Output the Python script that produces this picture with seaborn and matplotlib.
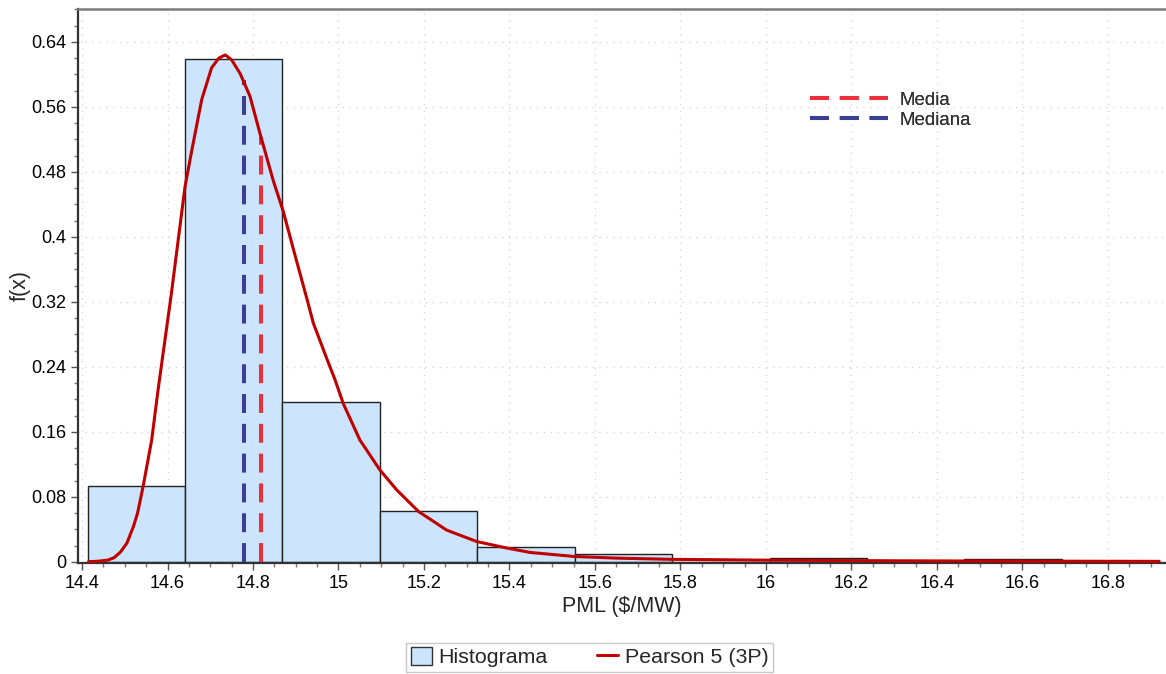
import numpy as np
import pandas as pd
import matplotlib
matplotlib.use('Agg')
import matplotlib.pyplot as plt
from matplotlib.ticker import MultipleLocator, FuncFormatter
from matplotlib.lines import Line2D
from matplotlib.patches import Patch
import seaborn as sns

# datos
bordes = [14.413, 14.641, 14.869, 15.097, 15.325, 15.553, 15.781, 16.009, 16.236, 16.464, 16.692, 16.92]
frecuencias = [0.0927, 0.619, 0.197, 0.062, 0.018, 0.0095, 0.0, 0.0045, 0.0, 0.0033, 0.0]

curva_x = [14.415, 14.44, 14.46, 14.475, 14.49, 14.505, 14.52, 14.53, 14.543, 14.563, 14.578,
           14.594, 14.609, 14.625, 14.641, 14.657, 14.68, 14.703, 14.72, 14.735, 14.75, 14.77,
           14.793, 14.816, 14.847, 14.871, 14.898, 14.926, 14.941, 14.972, 14.992, 15.011, 15.05,
           15.097, 15.136, 15.187, 15.253, 15.323, 15.393, 15.448, 15.552, 15.65, 15.78, 16.0,
           16.3, 16.6, 16.92]
curva_y = [0.0, 0.0008, 0.002, 0.005, 0.012, 0.023, 0.043, 0.06, 0.093, 0.150, 0.212,
           0.273, 0.33, 0.396, 0.462, 0.507, 0.569, 0.608, 0.62, 0.624, 0.618, 0.601,
           0.573, 0.528, 0.470, 0.431, 0.378, 0.324, 0.294, 0.251, 0.224, 0.195, 0.150,
           0.113, 0.0886, 0.062, 0.039, 0.025, 0.017, 0.0115, 0.0065, 0.0045, 0.003, 0.002,
           0.0012, 0.0008, 0.0005]

media_x, media_y = 14.819, 0.523
mediana_x, mediana_y = 14.779, 0.593

sns.set_style('white')
plt.rcParams['font.family'] = ['Liberation Sans', 'DejaVu Sans']

fig = plt.figure(figsize=(11.66, 6.74), dpi=100)
ax = fig.add_axes([0.0669, 0.1647, 0.9331, 0.822])

# histograma (barras a partir de las frecuencias)
centros = [(bordes[i] + bordes[i + 1]) / 2 for i in range(len(frecuencias))]
df_hist = pd.DataFrame({'x': centros, 'w': frecuencias})
sns.histplot(data=df_hist, x='x', weights='w', bins=bordes, stat='count',
             color='#cce5fc', alpha=1, edgecolor='#222222', linewidth=1.0, ax=ax, zorder=2)

# curva Pearson 5 (3P)
df_curva = pd.DataFrame({'x': curva_x, 'y': curva_y})
sns.lineplot(data=df_curva, x='x', y='y', sort=False, color='#c00000', linewidth=2.2,
             ax=ax, zorder=4)

# media y mediana
guion = (0, (4.7, 2.7))
ax.plot([media_x, media_x], [0, media_y], color='#e8313b', lw=2.9, linestyle=guion, zorder=3)
ax.plot([mediana_x, mediana_x], [0, mediana_y], color='#3b3f94', lw=2.9, linestyle=guion, zorder=3)

ax.set_xlim(14.3906, 16.936)
ax.set_ylim(-0.0015, 0.6806)

ax.xaxis.set_major_locator(MultipleLocator(0.2))
ax.xaxis.set_minor_locator(MultipleLocator(0.05))
ax.yaxis.set_major_locator(MultipleLocator(0.08))
ax.yaxis.set_minor_locator(MultipleLocator(0.02))
fmt = FuncFormatter(lambda v, p: f'{round(v, 4):g}')
ax.xaxis.set_major_formatter(fmt)
ax.yaxis.set_major_formatter(fmt)

ax.tick_params(which='major', direction='out', length=5, width=1, color='#555555',
               labelsize=13, labelcolor='black', bottom=True, left=True)
ax.tick_params(which='minor', direction='out', length=3, width=1, color='#777777',
               bottom=True, left=True)

ax.grid(True, which='major', linestyle=(0, (1, 4)), color='#d8d8d8', linewidth=1)
ax.set_axisbelow(True)

for lado in ['left', 'bottom']:
    ax.spines[lado].set_color('#333333')
    ax.spines[lado].set_linewidth(1.6)
ax.spines['top'].set_color('#7a7a7a')
ax.spines['top'].set_linewidth(1.8)
ax.spines['right'].set_visible(False)

ax.set_xlabel('PML ($/MW)', fontsize=15.5, labelpad=3)
ax.set_ylabel('f(x)', fontsize=15.5, labelpad=0)

# leyenda de media / mediana
h_lineas = [Line2D([0], [0], color='#e8313b', lw=2.9, linestyle=guion),
            Line2D([0], [0], color='#3b3f94', lw=2.9, linestyle=guion)]
ley1 = ax.legend(h_lineas, ['Media', 'Mediana'], loc='upper left',
                 bbox_to_anchor=(0.6725, 0.851), frameon=False, fontsize=13.4,
                 handlelength=4.2, handletextpad=0.6, labelspacing=0.18,
                 labelcolor='#333333', borderpad=0, borderaxespad=0)
ax.add_artist(ley1)

# leyenda inferior
h_inf = [Patch(facecolor='#cce5fc', edgecolor='#333333', linewidth=1),
         Line2D([0], [0], color='#c00000', lw=2.2)]
fig.legend(h_inf, ['Histograma', 'Pearson 5 (3P)'], loc='center',
           bbox_to_anchor=(0.5056, 0.025), ncol=2, fontsize=15.4, frameon=True,
           fancybox=False, edgecolor='#bbbbbb', handlelength=1.0, handleheight=0.95,
           handletextpad=0.3, columnspacing=2.3, borderpad=0.2, borderaxespad=0.2)

plt.savefig('out.png', dpi=100)
